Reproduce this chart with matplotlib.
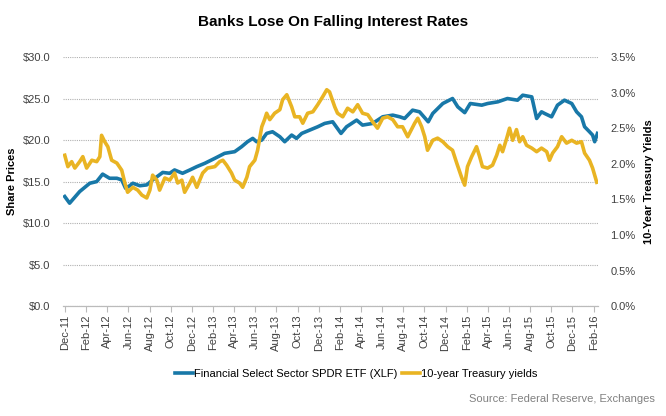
import pandas as pd
import matplotlib
matplotlib.use("Agg")
import matplotlib.pyplot as plt
import matplotlib.dates as mdates
from matplotlib.ticker import FuncFormatter

plt.rcParams['font.family'] = ['Liberation Sans', 'DejaVu Sans']

# XLF share price ($)
xlf_dates = [
    "2011-12-01", "2011-12-15", "2012-01-13", "2012-02-11", "2012-03-02", "2012-03-19",
    "2012-04-08", "2012-04-29", "2012-05-13", "2012-05-24", "2012-06-05", "2012-06-14",
    "2012-07-04", "2012-07-24", "2012-08-10", "2012-09-08", "2012-09-28", "2012-10-12",
    "2012-11-04", "2012-11-25", "2012-12-15", "2013-01-07", "2013-02-05", "2013-03-05",
    "2013-04-03", "2013-04-23", "2013-05-10", "2013-05-25", "2013-06-05", "2013-06-20",
    "2013-07-04", "2013-07-21", "2013-08-11", "2013-08-25", "2013-09-14", "2013-09-28",
    "2013-10-13", "2013-11-05", "2013-11-28", "2013-12-18", "2014-01-10", "2014-02-03",
    "2014-02-19", "2014-03-20", "2014-04-06", "2014-05-05", "2014-06-03", "2014-07-02",
    "2014-07-22", "2014-08-05", "2014-08-28", "2014-09-17", "2014-10-12", "2014-10-25",
    "2014-11-23", "2014-12-21", "2015-01-05", "2015-01-25", "2015-02-10", "2015-03-15",
    "2015-04-01", "2015-04-30", "2015-05-28", "2015-06-26", "2015-07-11", "2015-08-06",
    "2015-08-20", "2015-09-03", "2015-09-12", "2015-10-02", "2015-10-19", "2015-11-08",
    "2015-11-29", "2015-12-13", "2015-12-27", "2016-01-05", "2016-01-19", "2016-01-28",
    "2016-02-03", "2016-02-11",
]
xlf_price = [
    13.2, 12.4, 13.8, 14.8, 15.0, 15.9,
    15.4, 15.4, 15.2, 14.2, 14.5, 14.8,
    14.5, 14.6, 15.2, 16.1, 16.0, 16.4,
    16.0, 16.4, 16.8, 17.2, 17.8, 18.4,
    18.6, 19.2, 19.8, 20.2, 19.8, 20.0,
    20.8, 21.0, 20.4, 19.8, 20.6, 20.2,
    20.8, 21.2, 21.6, 22.0, 22.2, 20.8,
    21.6, 22.4, 21.8, 22.0, 22.8, 23.0,
    22.8, 22.6, 23.6, 23.4, 22.2, 23.2,
    24.4, 25.0, 24.0, 23.3, 24.4, 24.2,
    24.4, 24.6, 25.0, 24.8, 25.4, 25.2,
    22.6, 23.4, 23.2, 22.8, 24.2, 24.8,
    24.4, 23.4, 22.8, 21.6, 21.0, 20.6,
    19.8, 20.8,
]

# 10-year Treasury yield (%)
yield_dates = [
    "2011-12-01", "2011-12-10", "2011-12-21", "2011-12-30", "2012-01-13", "2012-01-22",
    "2012-02-02", "2012-02-17", "2012-03-02", "2012-03-11", "2012-03-16", "2012-03-25",
    "2012-04-03", "2012-04-14", "2012-04-29", "2012-05-13", "2012-05-22", "2012-05-30",
    "2012-06-14", "2012-06-28", "2012-07-10", "2012-07-24", "2012-08-02", "2012-08-10",
    "2012-08-22", "2012-08-30", "2012-09-14", "2012-09-28", "2012-10-12", "2012-10-21",
    "2012-11-02", "2012-11-10", "2012-11-25", "2012-12-03", "2012-12-15", "2013-01-01",
    "2013-01-15", "2013-02-05", "2013-02-19", "2013-02-28", "2013-03-11", "2013-03-25",
    "2013-04-03", "2013-04-17", "2013-04-26", "2013-05-08", "2013-05-16", "2013-05-31",
    "2013-06-08", "2013-06-20", "2013-06-28", "2013-07-04", "2013-07-13", "2013-07-27",
    "2013-08-11", "2013-08-19", "2013-08-31", "2013-09-14", "2013-09-23", "2013-10-07",
    "2013-10-16", "2013-10-30", "2013-11-14", "2013-11-28", "2013-12-12", "2013-12-24",
    "2014-01-01", "2014-01-16", "2014-01-24", "2014-02-08", "2014-02-22", "2014-03-09",
    "2014-03-23", "2014-04-06", "2014-04-21", "2014-05-05", "2014-05-19", "2014-06-03",
    "2014-06-17", "2014-07-02", "2014-07-16", "2014-07-30", "2014-08-14", "2014-09-03",
    "2014-09-12", "2014-09-23", "2014-10-02", "2014-10-10", "2014-10-25", "2014-11-08",
    "2014-11-23", "2014-12-07", "2014-12-21", "2015-01-02", "2015-01-16", "2015-01-25",
    "2015-02-02", "2015-02-14", "2015-02-28", "2015-03-09", "2015-03-17", "2015-04-01",
    "2015-04-15", "2015-04-27", "2015-05-06", "2015-05-14", "2015-05-26", "2015-06-03",
    "2015-06-12", "2015-06-23", "2015-07-02", "2015-07-11", "2015-07-22", "2015-08-06",
    "2015-08-20", "2015-09-03", "2015-09-18", "2015-09-26", "2015-10-05", "2015-10-19",
    "2015-10-31", "2015-11-14", "2015-11-29", "2015-12-13", "2015-12-27", "2016-01-05",
    "2016-01-19", "2016-01-28", "2016-02-09",
]
yield_pct = [
    2.12, 1.96, 2.03, 1.94, 2.03, 2.10,
    1.94, 2.05, 2.03, 2.10, 2.40, 2.31,
    2.24, 2.05, 2.01, 1.91, 1.73, 1.60,
    1.67, 1.63, 1.56, 1.52, 1.63, 1.84,
    1.77, 1.63, 1.80, 1.77, 1.87, 1.73,
    1.77, 1.60, 1.73, 1.81, 1.67, 1.87,
    1.94, 1.96, 2.03, 2.05, 1.98, 1.87,
    1.77, 1.73, 1.67, 1.81, 1.96, 2.05,
    2.19, 2.52, 2.62, 2.71, 2.62, 2.71,
    2.76, 2.90, 2.97, 2.80, 2.66, 2.66,
    2.57, 2.71, 2.73, 2.83, 2.94, 3.04,
    3.01, 2.80, 2.71, 2.66, 2.78, 2.73,
    2.83, 2.71, 2.69, 2.59, 2.50, 2.64,
    2.66, 2.62, 2.52, 2.52, 2.38, 2.57,
    2.64, 2.52, 2.38, 2.19, 2.33, 2.36,
    2.31, 2.24, 2.19, 2.01, 1.81, 1.70,
    1.96, 2.10, 2.24, 2.10, 1.96, 1.94,
    1.98, 2.12, 2.26, 2.17, 2.36, 2.50,
    2.33, 2.48, 2.31, 2.38, 2.26, 2.22,
    2.17, 2.22, 2.17, 2.05, 2.15, 2.24,
    2.38, 2.29, 2.33, 2.29, 2.31, 2.15,
    2.05, 1.94, 1.74,
]

blue = '#1878a8'
gold = '#e9b423'
txt = '#404040'

fig = plt.figure(figsize=(6.66, 4.16), dpi=100)
ax = fig.add_axes([0.0946, 0.264, 0.803, 0.599])
ax2 = ax.twinx()

l1, = ax.plot(pd.to_datetime(xlf_dates), xlf_price, color=blue, lw=2.6,
              label='Financial Select Sector SPDR ETF (XLF)')
l2, = ax2.plot(pd.to_datetime(yield_dates), yield_pct, color=gold, lw=2.6,
               label='10-year Treasury yields')

ax.set_ylim(0, 30)
ax.set_yticks(range(0, 31, 5))
ax.yaxis.set_major_formatter(FuncFormatter(lambda v, p: f'${v:.1f}'))
ax2.set_ylim(0, 3.5)
ax2.set_yticks([i * 0.5 for i in range(8)])
ax2.yaxis.set_major_formatter(FuncFormatter(lambda v, p: f'{v:.1f}%'))

ax.set_xlim(pd.Timestamp('2011-11-26'), pd.Timestamp('2016-02-12'))
ax.xaxis.set_major_locator(mdates.MonthLocator(bymonth=[2, 4, 6, 8, 10, 12]))
ax.xaxis.set_major_formatter(mdates.DateFormatter('%b-%y'))
plt.setp(ax.get_xticklabels(), rotation=90)

ax.grid(axis='y', color='#b0b0b0', linestyle=(0, (1, 1)), lw=0.8)
ax.set_axisbelow(True)
for a in (ax, ax2):
    for s in ('left', 'right', 'top'):
        a.spines[s].set_visible(False)
    a.spines['bottom'].set_color('#bbbbbb')
ax.tick_params(axis='y', length=0, pad=9, labelsize=8, labelcolor=txt)
ax2.tick_params(axis='y', length=0, pad=9, labelsize=8, labelcolor=txt)
ax.tick_params(axis='x', length=4, color='#bbbbbb', labelsize=8, labelcolor=txt, pad=2)

ax.set_ylabel('Share Prices', fontsize=8, fontweight='bold', color='black', labelpad=4)
ax2.set_ylabel('10-Year Treasury Yields', fontsize=8, fontweight='bold', color='black', labelpad=6)

fig.text(0.5, 0.948, 'Banks Lose On Falling Interest Rates', ha='center', va='center',
         fontsize=11, fontweight='bold', family=['Liberation Sans Narrow', 'Liberation Sans'])

fig.legend(handles=[l1, l2], loc='center', bbox_to_anchor=(0.535, 0.102), ncol=2,
           frameon=False, fontsize=8, handlelength=1.6, handletextpad=0.1,
           columnspacing=0.4)
fig.text(0.983, 0.04, 'Source: Federal Reserve, Exchanges', ha='right', va='center',
         fontsize=8, color='#808080')

fig.savefig('out.png', dpi=100)
